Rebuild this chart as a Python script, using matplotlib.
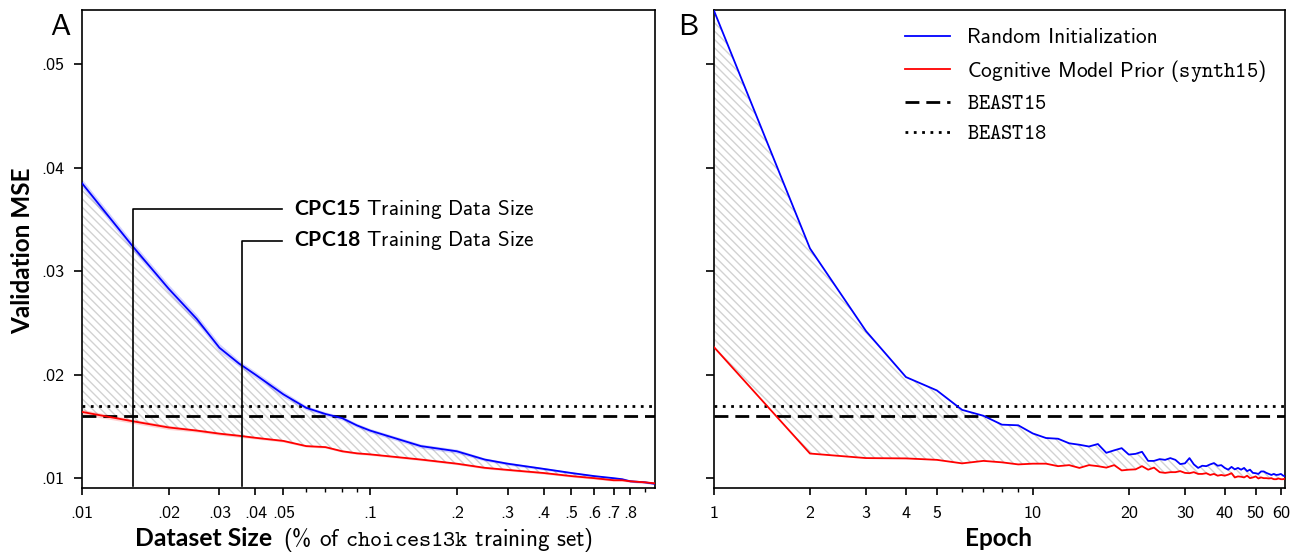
import numpy as np
import matplotlib
matplotlib.use("Agg")
import matplotlib.pyplot as plt
from matplotlib.ticker import FixedLocator, FixedFormatter, NullFormatter

# ---------------- data ----------------
# Panel A: dataset size (fraction of choices13k training set)
size_x = [0.01, 0.015, 0.02, 0.025, 0.03, 0.035, 0.04, 0.05, 0.06, 0.07, 0.08, 0.09,
          0.1, 0.15, 0.2, 0.25, 0.3, 0.4, 0.5, 0.6, 0.7, 0.75, 0.8, 0.9, 0.975]
size_random = [0.0385, 0.0324, 0.0283, 0.0254, 0.0226, 0.0211, 0.0200, 0.0181, 0.0168,
               0.0162, 0.0158, 0.0151, 0.0146, 0.0131, 0.0126, 0.0118, 0.0114, 0.0109,
               0.0105, 0.0102, 0.0100, 0.0099, 0.0097, 0.0096, 0.00945]
size_random_ci = [0.0004, 0.0004, 0.0004, 0.0004, 0.0004, 0.0003, 0.0003, 0.0003, 0.0002,
                  0.0002, 0.0002, 0.0002, 0.0002, 0.0002, 0.0002, 0.00015, 0.00015, 0.00012,
                  0.0001, 0.0001, 0.0001, 0.0001, 0.0001, 0.0001, 0.0001]
size_prior = [0.0164, 0.0155, 0.0149, 0.0146, 0.0143, 0.0141, 0.0139, 0.0136, 0.0131,
              0.0130, 0.0126, 0.0124, 0.0123, 0.0118, 0.0114, 0.0110, 0.0108, 0.0105,
              0.0102, 0.0100, 0.0098, 0.0098, 0.0097, 0.0096, 0.0095]
size_prior_ci = [0.00025, 0.0002, 0.0002, 0.00015, 0.00015, 0.00015, 0.00012, 0.00012,
                 0.0001, 0.0001, 0.0001, 0.0001, 0.0001, 0.0001, 0.0001, 0.0001, 0.0001,
                 0.0001, 0.0001, 0.0001, 0.0001, 0.0001, 0.0001, 0.0001, 0.0001]

# Panel B: epochs
epochs = list(range(1, 63))
epoch_random = [0.05517, 0.0322, 0.0242, 0.01977, 0.01848, 0.01660, 0.01603, 0.01517,
                0.01511, 0.01432, 0.01388, 0.01381, 0.01337, 0.01323, 0.01306, 0.0133,
                0.01245, 0.01269, 0.0129, 0.01228, 0.01235, 0.01255, 0.01167, 0.01167,
                0.01184, 0.01177, 0.01194, 0.01177, 0.01136, 0.01143, 0.01194, 0.01133,
                0.01099, 0.0112, 0.01116, 0.01133, 0.01146, 0.0112, 0.01126, 0.01099,
                0.01082, 0.01109, 0.01085, 0.01099, 0.01082, 0.01099, 0.01068, 0.01082,
                0.01051, 0.01048, 0.01041, 0.01065, 0.01065, 0.01051, 0.01041, 0.01031,
                0.01041, 0.01031, 0.01034, 0.01041, 0.01024, 0.01017]
epoch_prior = [0.02266, 0.01238, 0.01194, 0.01191, 0.01177, 0.01143, 0.01167, 0.01153,
               0.01133, 0.0114, 0.0114, 0.01116, 0.01126, 0.01099, 0.01126, 0.01116,
               0.01102, 0.01126, 0.01075, 0.01082, 0.01085, 0.01116, 0.01082, 0.01102,
               0.01058, 0.01051, 0.01058, 0.01058, 0.01068, 0.01051, 0.01048, 0.01058,
               0.01041, 0.01041, 0.01048, 0.01031, 0.01041, 0.01024, 0.01031, 0.01024,
               0.01034, 0.01048, 0.01007, 0.01017, 0.01014, 0.01007, 0.01024, 0.0100,
               0.01007, 0.01017, 0.00997, 0.01007, 0.0100, 0.0100, 0.00997, 0.0100,
               0.0099, 0.0099, 0.00997, 0.0099, 0.0099, 0.00997]

beast15 = 0.01603
beast18 = 0.01694

cpc15_size = 0.015
cpc18_size = 0.036

y_ticks = [0.01, 0.02, 0.03, 0.04, 0.05]
y_ticklabels = [".01", ".02", ".03", ".04", ".05"]
a_ticks = [0.01, 0.02, 0.03, 0.04, 0.05, 0.1, 0.2, 0.3, 0.4, 0.5, 0.6, 0.7, 0.8]
a_ticklabels = [".01", ".02", ".03", ".04", ".05", ".1", ".2", ".3", ".4", ".5", ".6", ".7", ".8"]
a_minor = [0.06, 0.07, 0.08, 0.09, 0.9]
b_ticks = [1, 2, 3, 4, 5, 10, 20, 30, 40, 50, 60]
b_ticklabels = ["1", "2", "3", "4", "5", "10", "20", "30", "40", "50", "60"]
b_minor = [6, 7, 8, 9]

# ---------------- style ----------------
BOLD_FAMILY = ["Lato", "DejaVu Sans"]
plt.rcParams.update({
    "font.family": ["cmss10", "DejaVu Sans"],
    "mathtext.fontset": "custom",
    "mathtext.rm": "cmss10",
    "mathtext.sf": "cmss10",
    "mathtext.it": "cmss10",
    "mathtext.bf": "Lato:bold",
    "mathtext.tt": "cmtt10",
    "axes.linewidth": 1.2,
    "xtick.major.width": 1.2,
    "ytick.major.width": 1.2,
    "xtick.minor.width": 1.0,
    "xtick.major.size": 5,
    "ytick.major.size": 5.5,
    "xtick.minor.size": 3,
    "xtick.major.pad": 8,
    "ytick.major.pad": 7.5,
    "hatch.linewidth": 1.0,
    "axes.unicode_minus": False,
})

W, H = 1294, 553
fig = plt.figure(figsize=(W / 100, H / 100), dpi=100)
axA = fig.add_axes([82 / W, 1 - 488 / H, (655 - 82) / W, (488 - 10) / H])
axB = fig.add_axes([714 / W, 1 - 488 / H, (1285 - 714) / W, (488 - 10) / H], sharey=axA)

BLUE = "#0000ff"
RED = "#ff0000"
HATCH_C = "#d2d2d2"
ylim = (0.00905, 0.05524)

# ---- Panel A ----
xa = np.array(size_x)
ra = np.array(size_random)
pa = np.array(size_prior)
axA.fill_between(xa, ra, pa, facecolor="none", edgecolor=HATCH_C, hatch="\\\\\\\\", linewidth=0, zorder=1)
axA.fill_between(xa, ra - np.array(size_random_ci), ra + np.array(size_random_ci),
                 color=BLUE, alpha=0.18, linewidth=0, zorder=2)
axA.fill_between(xa, pa - np.array(size_prior_ci), pa + np.array(size_prior_ci),
                 color=RED, alpha=0.18, linewidth=0, zorder=2)
axA.plot(xa, ra, color=BLUE, lw=1.3, zorder=4)
axA.plot(xa, pa, color=RED, lw=1.3, zorder=4)
axA.axhline(beast15, color="black", lw=2.0, ls=(0, (5, 2.5)), zorder=3)
axA.axhline(beast18, color="black", lw=2.0, ls=(0, (1, 2)), zorder=3)

# annotations
ybot = 0.00928
y15, y18 = 0.0360, 0.03293
xline_end = 0.0494
axA.plot([cpc15_size, cpc15_size, xline_end], [ybot, y15, y15], color="black", lw=1.2, zorder=5)
axA.plot([cpc18_size, cpc18_size, xline_end], [ybot, y18, y18], color="black", lw=1.2, zorder=5)
axA.text(0.0545, y15, r"$\mathbf{CPC15}$ Training Data Size", fontsize=15.2, va="center", ha="left")
axA.text(0.0545, y18, r"$\mathbf{CPC18}$ Training Data Size", fontsize=15.2, va="center", ha="left")

axA.set_xscale("log")
axA.set_xlim(0.01, 0.975)
axA.set_ylim(*ylim)
axA.xaxis.set_major_locator(FixedLocator(a_ticks))
axA.xaxis.set_major_formatter(FixedFormatter(a_ticklabels))
axA.xaxis.set_minor_locator(FixedLocator(a_minor))
axA.xaxis.set_minor_formatter(NullFormatter())
axA.yaxis.set_major_locator(FixedLocator(y_ticks))
axA.yaxis.set_major_formatter(FixedFormatter(y_ticklabels))
axA.yaxis.set_minor_locator(FixedLocator([]))
axA.tick_params(labelsize=13)

# ---- Panel B ----
xb = np.array(epochs)
rb = np.array(epoch_random)
pb = np.array(epoch_prior)
axB.fill_between(xb, rb, pb, facecolor="none", edgecolor=HATCH_C, hatch="\\\\\\\\", linewidth=0, zorder=1)
axB.plot(xb, rb, color=BLUE, lw=1.3, zorder=4, label="Random Initialization")
axB.plot(xb, pb, color=RED, lw=1.3, zorder=4, label=r"Cognitive Model Prior ($\mathtt{synth15}$)")
axB.axhline(beast15, color="black", lw=2.0, ls=(0, (5, 2.5)), zorder=3, label=r"$\mathtt{BEAST15}$")
axB.axhline(beast18, color="black", lw=2.0, ls=(0, (1, 2)), zorder=3, label=r"$\mathtt{BEAST18}$")
axB.set_xscale("log")
axB.set_xlim(1, 61.8)
axB.xaxis.set_major_locator(FixedLocator(b_ticks))
axB.xaxis.set_major_formatter(FixedFormatter(b_ticklabels))
axB.xaxis.set_minor_locator(FixedLocator(b_minor))
axB.xaxis.set_minor_formatter(NullFormatter())
axB.tick_params(labelsize=13)
axB.tick_params(axis="y", labelleft=False)
axB.legend(loc="upper left", frameon=False, fontsize=15.4, handlelength=2.1,
           handletextpad=0.8, labelspacing=0.5, borderpad=0, borderaxespad=0,
           bbox_to_anchor=(905 / W, 1 - 28 / H), bbox_transform=fig.transFigure)

# axis labels (placed in figure pixels to mix fonts/sizes like the reference)
fig.text(135 / W, 1 - 546 / H, "Dataset Size", family=BOLD_FAMILY, fontweight="bold",
         fontsize=17.8, va="baseline", ha="left")
fig.text(283 / W, 1 - 546 / H, r"(% of $\mathtt{choices13k}$ training set)",
         fontsize=16.7, va="baseline", ha="left")
fig.text(998.5 / W, 1 - 546 / H, "Epoch", family=BOLD_FAMILY, fontweight="bold",
         fontsize=17.5, va="baseline", ha="center")
fig.text(11 / W, 1 - 251 / H, "Validation MSE", family=BOLD_FAMILY, fontweight="bold",
         fontsize=17.5, rotation=90, va="center", ha="left")

# panel letters
fig.text(50 / W, 1 - 35 / H, "A", fontsize=22, va="baseline", ha="left")
fig.text(678 / W, 1 - 35 / H, "B", fontsize=22, va="baseline", ha="left")

fig.savefig("out.png", dpi=100)
